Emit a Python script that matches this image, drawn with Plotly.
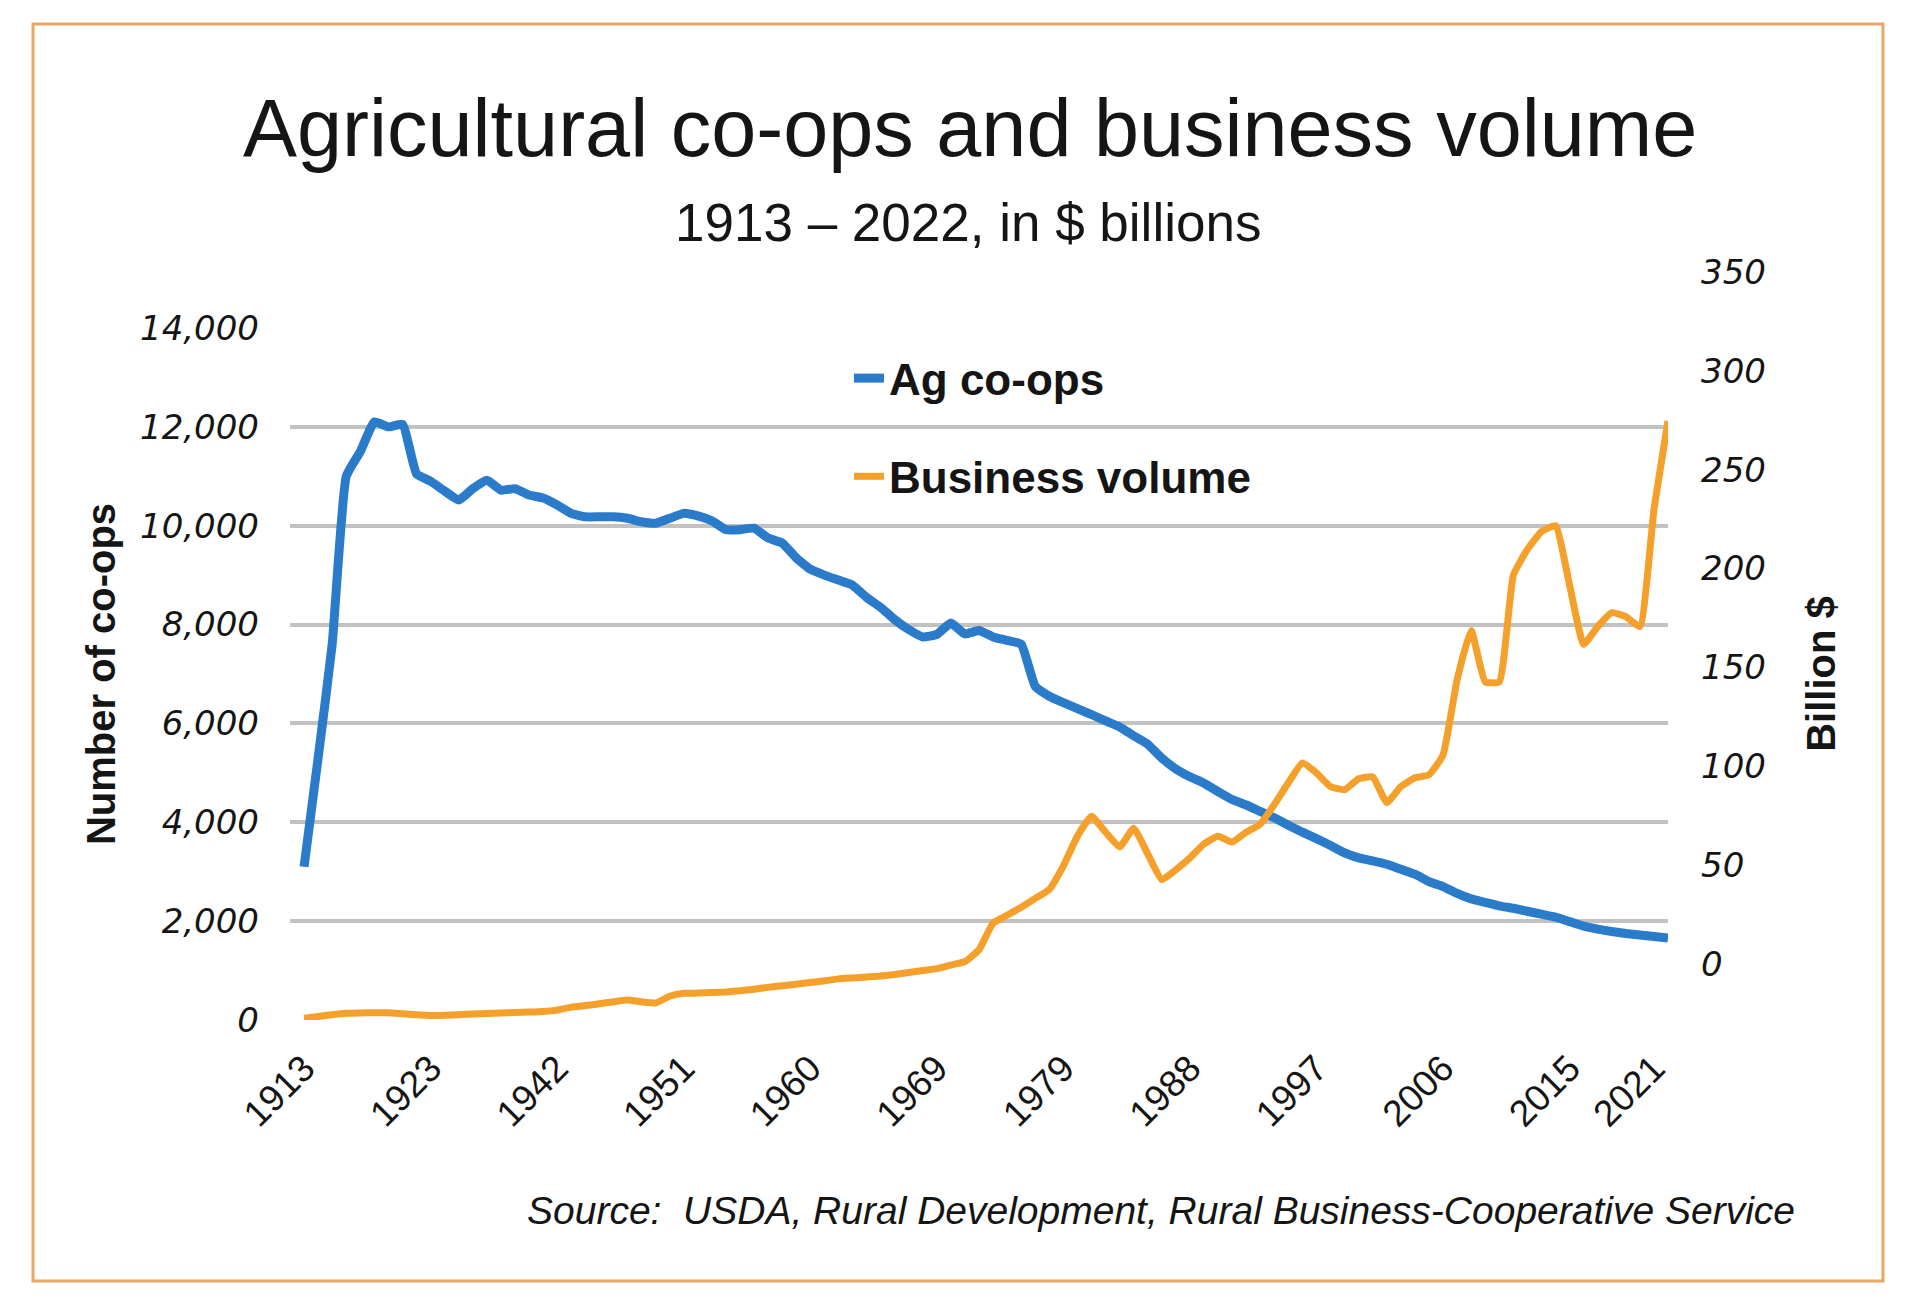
import plotly.graph_objects as go

years = [1913, 1915, 1916, 1917, 1918, 1919, 1920, 1921, 1922, 1923,
         1925, 1928, 1930, 1932, 1934, 1936, 1938, 1940, 1942] + \
        list(range(1943, 1970)) + [1970, 1972, 1973, 1974, 1975, 1976, 1977, 1978] + \
        list(range(1979, 2023))
categories = [str(y) for y in years]

ag_coops = [3100, 5300, 7600, 11000, 11500, 12100, 12000, 12050, 11050, 10900,
            10700, 10520, 10750, 10920, 10720, 10750, 10620, 10560, 10420, 10250,
            10180, 10180, 10180, 10150, 10080, 10050, 10150, 10250, 10200, 10100,
            9920, 9920, 9950, 9750, 9650, 9350, 9120, 9000, 8900, 8800,
            8550, 8350, 8100, 7900, 7750, 7800, 8030, 7810, 7880, 7750,
            7680, 7600, 6750, 6550, 6420, 6300, 6180, 6050, 5930, 5750,
            5580, 5300, 5080, 4920, 4790, 4620, 4460, 4350, 4220, 4090,
            3940, 3800, 3670, 3530, 3380, 3280, 3220, 3150, 3050, 2950,
            2800, 2700, 2560, 2450, 2380, 2310, 2260, 2200, 2140, 2080,
            1990, 1900, 1840, 1790, 1750, 1720, 1690, 1660]

business_volume = [0.9, 1.8, 2.7, 3.4, 3.6, 3.7, 3.7, 3.2, 2.7, 2.3,
                   2.4, 2.7, 3.0, 3.3, 3.5, 3.8, 4.0, 4.3, 5.0, 6.5,
                   7.3, 8.2, 9.2, 10.1, 9.2, 8.6, 12.0, 13.5, 13.6, 13.9,
                   14.2, 14.8, 15.6, 16.5, 17.3, 18.1, 19.0, 19.8, 20.8, 21.3,
                   21.8, 22.3, 23.0, 24.0, 25.0, 26.0, 27.8, 29.5, 35.5, 49.0,
                   53.0, 57.0, 61.5, 66.0, 78.0, 93.0, 103.0, 95.0, 87.5, 97.0,
                   84.0, 71.0, 76.0, 82.0, 89.0, 93.0, 90.0, 95.0, 99.0, 109.0,
                   120.0, 130.0, 125.0, 118.0, 116.5, 122.0, 123.0, 110.0, 118.0, 122.5,
                   124.0, 134.0, 172.0, 197.0, 171.0, 171.0, 225.0, 238.0, 247.0, 250.0,
                   220.0, 190.0, 199.0, 206.0, 204.0, 199.0, 258.0, 303.0]

x_tick_labels = ["1913", "1923", "1942", "1951", "1960", "1969", "1979",
                 "1988", "1997", "2006", "2015", "2021"]
left_ticks = [0, 2000, 4000, 6000, 8000, 10000, 12000, 14000]
right_ticks = [0, 50, 100, 150, 200, 250, 300, 350]

BLUE = "#2B7BCB"
ORANGE = "#F6A02C"
GRID = "#C2C2C2"
TXT = "#151515"

fig = go.Figure()
fig.add_trace(go.Scatter(
    x=categories, y=ag_coops, name="Ag co-ops", mode="lines",
    line=dict(color=BLUE, width=9, shape="spline", smoothing=0.4),
    legendgroup="a", yaxis="y"))
fig.add_trace(go.Scatter(
    x=categories, y=business_volume, name="Business volume", mode="lines",
    line=dict(color=ORANGE, width=7, shape="spline", smoothing=0.4),
    legendgroup="b", yaxis="y2"))

L, R, T, B = 290, 1668, 328, 1020
W, H = 1920, 1311
pw, ph = R - L, B - T

def px(x):
    return (x - L) / pw

def py(y):
    return (B - y) / ph

sans = "Liberation Sans, Arial, sans-serif"

fig.update_layout(
    width=W, height=H,
    margin=dict(l=L, r=W - R, t=T, b=H - B, autoexpand=False),
    paper_bgcolor="white", plot_bgcolor="white",
    showlegend=True,
    legend=dict(x=px(849), y=py(343), xanchor="left", yanchor="top",
                bgcolor="rgba(0,0,0,0)", tracegroupgap=38,
                font=dict(family=sans, size=44, color=TXT, weight="bold")),
    xaxis=dict(type="category", categoryorder="array", categoryarray=categories,
               range=[-1, len(categories) - 1],
               tickmode="array", tickvals=x_tick_labels, ticktext=x_tick_labels,
               tickangle=-45, showgrid=False, zeroline=False, showline=False,
               ticks="", ticklabelstandoff=18,
               tickfont=dict(family=sans, size=37, color=TXT)),
    yaxis=dict(range=[0, 14000], tickmode="array", tickvals=left_ticks,
               tickformat=",d", showgrid=True, gridcolor=GRID, gridwidth=4,
               zeroline=False, showline=False, ticks="",
               ticklabelstandoff=30,
               tickfont=dict(family="DejaVu Sans", size=34, color=TXT, style="italic"),
               title=dict(text="Number of co-ops", standoff=12,
                          font=dict(family=sans, size=40, color=TXT, weight="bold"))),
    yaxis2=dict(range=[0, 350], overlaying="y", side="right", tickmode="array",
                tickvals=right_ticks, showgrid=False, zeroline=False, showline=False,
                ticks="", ticklabelstandoff=32, ticklabelshift=-56,
                tickfont=dict(family="DejaVu Sans", size=34, color=TXT, style="italic"),
                title=dict(text="Billion $", standoff=42,
                           font=dict(family=sans, size=40, color=TXT, weight="bold"))),
)

fig.add_shape(type="rect", xref="paper", yref="paper",
              x0=px(33), x1=px(1883), y0=py(1281), y1=py(24),
              line=dict(color="#E8A767", width=3), fillcolor="rgba(0,0,0,0)", layer="below")

fig.add_annotation(text="Agricultural co-ops and business volume", xref="paper", yref="paper",
                   x=px(970), y=py(128), xanchor="center", yanchor="middle", showarrow=False,
                   font=dict(family=sans, size=81, color=TXT))
fig.add_annotation(text="1913 \u2013 2022, in $ billions", xref="paper", yref="paper",
                   x=px(968), y=py(222), xanchor="center", yanchor="middle", showarrow=False,
                   font=dict(family=sans, size=53, color=TXT))
fig.add_annotation(text="Source:  USDA, Rural Development, Rural Business-Cooperative Service",
                   xref="paper", yref="paper", x=px(1797), y=py(1210),
                   xanchor="right", yanchor="middle", showarrow=False,
                   font=dict(family=sans, size=39, color=TXT, style="italic"))

fig.write_html("out.html")
